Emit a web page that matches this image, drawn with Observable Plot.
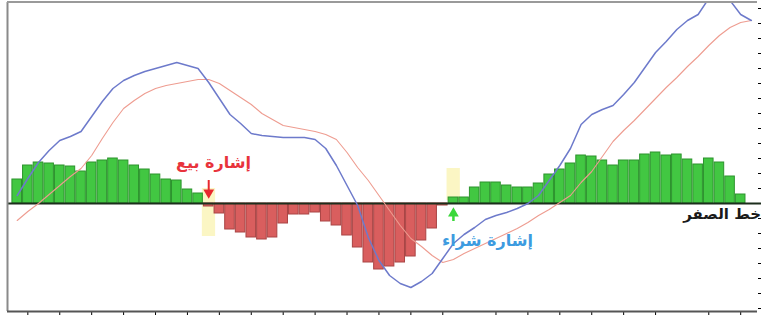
<!DOCTYPE html>
<html><head><meta charset="utf-8">
<script src="https://cdn.jsdelivr.net/npm/d3@7"></script>
<script src="https://cdn.jsdelivr.net/npm/@observablehq/plot@0.6"></script>
<style>body{margin:0;background:#fff;overflow:hidden}</style>
</head><body><div id="chart"></div>
<script>
// MACD histogram (one value per period)
const histogram = [24,38,41,40,38,37,32,41,43,45,43,38,34,29,24,23,14,10,
  -3,-10,-26,-29,-34,-36,-34,-20,-11,-11,-9,-18,-22,-32,-44,-59,-66,-63,-59,-53,-37,-25,-2,
  6,6,16,21,21,18,16,16,20,29,34,40,48,47,43,38,43,43,49,51,48,49,44,39,45,41,27,9];
// MACD line (blue)
const macdLine = [8,25,41,53,63,67,72,87,102,115,123,128,132,135,138,141,138,135,121,105,
  89,80,70,68,67,66,66,66,64,55,38,18,-2,-34,-57,-72,-80,-84,-78,-70,
  -55,-40,-31,-24,-16,-12,-9,-5,0,8,23,38,55,79,89,94,98,109,121,136,
  151,162,174,183,189,205,211,203,189,183];
// Signal line (red)
const signalLine = [-17,-8,0,9,18,27,35,48,65,81,95,103,110,115,118,120,122,124,124,120,
  113,106,99,90,84,78,76,74,72,69,64,51,36,23,8,-7,-22,-35,-43,-52,
  -59,-56,-50,-45,-40,-35,-30,-25,-19,-12,-6,1,8,21,32,47,62,73,83,94,
  105,116,126,137,147,158,168,176,181,183];
const xTicks = [1,4,7,10,13,16,19,22,25,28,31,34,37,40,45,48,51,54,57,60,65,68];
const yTicks = [-105,-90,-75,-60,-45,-30,-15,0,15,30,45,60,75,90,105,120,135,150,165,180,195];

// annotations
const sellSignal = {i: 18, label: "إشارة بيع", labelX: 18.45, labelY: 41, boxTop: 15, boxBottom: -33, arrowFrom: 23, arrowTo: 11};
const buySignal = {i: 41, label: "إشارة شراء", labelX: 44.2, labelY: -37, boxTop: 35, boxBottom: 3, arrowFrom: -18, arrowTo: -10};
const zeroLabel = {label: "خط الصفر", x: 62.6, y: -11};

const bars = histogram.map((v, i) => ({i, v}));
const lines = [
  ...macdLine.map((v, i) => ({i, v, s: "macd"})),
  ...signalLine.map((v, i) => ({i, v, s: "signal"}))
];
const boxes = [sellSignal, buySignal];

const chart = Plot.plot({
  width: 761,
  height: 319,
  marginLeft: 7,
  marginRight: 4,
  marginTop: 2,
  marginBottom: 8,
  style: {background: "#fff", fontFamily: "DejaVu Sans"},
  x: {domain: [-0.912, 69.58], ticks: xTicks, tickSize: 4, tickFormat: () => "", label: null},
  y: {domain: [-108, 201], axis: "right", ticks: yTicks, tickSize: 3, tickFormat: () => "", label: null},
  marks: [
    Plot.rect(boxes, {x1: d => d.i - 0.6, x2: d => d.i + 0.65, y1: "boxBottom", y2: "boxTop", fill: "#fbf6c4"}),
    Plot.rectY(bars, {x1: d => d.i - 0.45, x2: d => d.i + 0.45, y: "v",
      fill: d => d.v >= 0 ? "#42c742" : "#d95e5e",
      stroke: d => d.v >= 0 ? "#2c942d" : "#a94444", strokeWidth: 1}),
    Plot.ruleY([0], {x1: -0.912, x2: 69.95, stroke: "#1c2e1c", strokeWidth: 2}),
    Plot.line(lines.filter(d => d.s === "signal"), {x: "i", y: "v", stroke: "#ee9c90", strokeWidth: 1.1, clip: true}),
    Plot.line(lines.filter(d => d.s === "macd"), {x: "i", y: "v", stroke: "#6d7acb", strokeWidth: 1.5, clip: true}),
    Plot.ruleX([-0.912], {stroke: "#8a8a8a", strokeWidth: 2}),
    Plot.ruleY([201.5], {stroke: "#9a9a9a", strokeWidth: 2}),
    Plot.ruleY([-108], {stroke: "#555", strokeWidth: 2}),
    // arrows
    Plot.ruleX([sellSignal], {x: "i", y1: "arrowFrom", y2: "arrowTo", stroke: "#e8282e", strokeWidth: 2}),
    Plot.dot([sellSignal], {x: "i", y: "arrowTo", symbol: "triangle", rotate: 180, r: 4, fill: "#e8282e"}),
    Plot.ruleX([buySignal], {x: "i", y1: "arrowFrom", y2: "arrowTo", stroke: "#3ad83a", strokeWidth: 2.5}),
    Plot.dot([buySignal], {x: "i", y: "arrowTo", symbol: "triangle", r: 4, fill: "#3ad83a"}),
    // labels
    Plot.text([sellSignal], {x: "labelX", y: "labelY", text: "label", fill: "#e8333c", fontSize: 16, fontWeight: "bold"}),
    Plot.text([buySignal], {x: "labelX", y: "labelY", text: "label", fill: "#3d9be0", fontSize: 16, fontWeight: "bold"}),
    Plot.text([zeroLabel], {x: "x", y: "y", text: "label", fill: "#1a1a1a", fontSize: 15, fontWeight: "bold", textAnchor: "start"})
  ]
});
document.getElementById("chart").appendChild(chart);
</script>
</body></html>
